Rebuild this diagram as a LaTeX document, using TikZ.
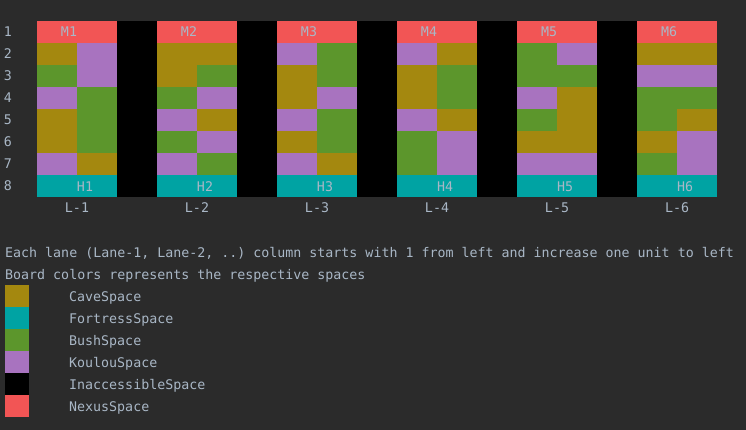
\documentclass[tikz,border=0pt]{standalone}
\usepackage{fontspec}
\setmonofont{DejaVu Sans Mono}
\definecolor{bgdark}{HTML}{2B2B2B}
\definecolor{textgray}{HTML}{A9B7C6}
\definecolor{cave}{HTML}{A4880F}
\definecolor{fortress}{HTML}{00A3A3}
\definecolor{bush}{HTML}{5C962C}
\definecolor{koulou}{HTML}{A873BF}
\definecolor{nexus}{HTML}{F25555}
\tikzset{
	monotext/.style={font=\ttfamily\fontsize{13.3}{16}\selectfont, text=textgray, inner sep=0pt}
}

\begin{document}
\begin{tikzpicture}[x=1pt,y=-1pt]
      % terminal background
      \fill[bgdark] (0,0) rectangle (746,430);
      \useasboundingbox (0,0) rectangle (746,430);
      % row numbers
      \foreach \r in {1,...,8}
        \node[monotext, anchor=base] (row\r) at (8,{22*\r+15}) {\r};
      % lanes, rows 2 to 7 given as left/right cell
      \foreach \l/\cells in {
          1/{cave/koulou,bush/koulou,koulou/bush,cave/bush,cave/bush,koulou/cave},
          2/{cave/cave,cave/bush,bush/koulou,koulou/cave,bush/koulou,koulou/bush},
          3/{koulou/bush,cave/bush,cave/koulou,koulou/bush,cave/bush,koulou/cave},
          4/{koulou/cave,cave/bush,cave/bush,koulou/cave,bush/koulou,bush/koulou},
          5/{bush/koulou,bush/bush,koulou/cave,bush/cave,cave/cave,koulou/koulou},
          6/{cave/cave,koulou/koulou,bush/bush,bush/cave,cave/koulou,bush/koulou}} {
        \pgfmathsetmacro\xl{37+120*(\l-1)}
        \fill[nexus] (\xl,21) rectangle ++(80,22);
        \foreach \a/\b [count=\i from 1] in \cells {
          \fill[\a] (\xl,{21+22*\i}) rectangle ++(40,22);
          \fill[\b] ({\xl+40},{21+22*\i}) rectangle ++(40,22);
        }
        \fill[fortress] (\xl,175) rectangle ++(80,22);
        \node[monotext, anchor=base] (M\l) at ({\xl+32},37) {M\l};
        \node[monotext, anchor=base] (H\l) at ({\xl+48},192) {H\l};
        \node[monotext, anchor=base] (lane\l) at ({\xl+40},213) {L-\l};
      }
      % inaccessible columns between lanes
      \foreach \g in {1,...,5}
        \fill[black] ({117+120*(\g-1)},21) rectangle ++(40,176);
      % notes
      \node[monotext, anchor=base west] (note1) at (5,257) {Each lane (Lane-1, Lane-2, ..) column starts with 1 from left and increase one unit to left};
      \node[monotext, anchor=base west] (note2) at (5,279) {Board colors represents the respective spaces};
      % legend
      \foreach \c/\name [count=\k from 0] in {cave/CaveSpace, fortress/FortressSpace, bush/BushSpace, koulou/KoulouSpace, black/InaccessibleSpace, nexus/NexusSpace} {
        \fill[\c] (5,{285+22*\k}) rectangle ++(24,22);
        \node[monotext, anchor=base west] (key\k) at (69,{301+22*\k}) {\name};
      }
    \end{tikzpicture}
\end{document}
